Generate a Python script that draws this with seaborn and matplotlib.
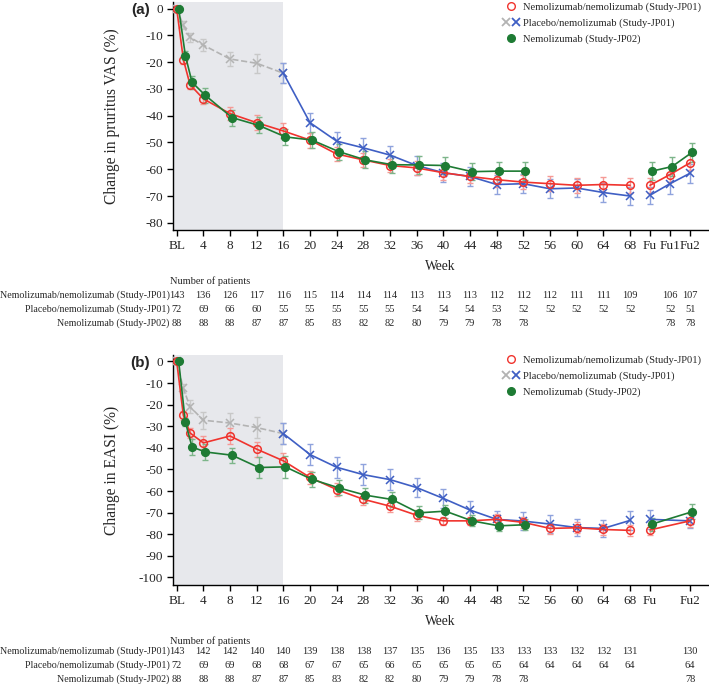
import numpy as np
import pandas as pd
import matplotlib
matplotlib.use("Agg")
import matplotlib.pyplot as plt
import matplotlib.transforms as mtransforms
from matplotlib.lines import Line2D
from matplotlib.legend_handler import HandlerTuple
import seaborn as sns

# Week positions (BL = 0, follow-up visits after week 68)
weeks_main = [0, 1, 2, 4, 8, 12, 16, 20, 24, 28, 32, 36, 40, 44, 48, 52, 56, 60, 64, 68]
weeks_jp02 = [0, 1, 2, 4, 8, 12, 16, 20, 24, 28, 32, 36, 40, 44, 48, 52]
weeks_pbo = [0, 1, 2, 4, 8, 12, 16]
weeks_blue = [16, 20, 24, 28, 32, 36, 40, 44, 48, 52, 56, 60, 64, 68]
weeks_fu_a = [71, 74, 77]
weeks_fu_b = [71, 77]

ticks_a = [0, 4, 8, 12, 16, 20, 24, 28, 32, 36, 40, 44, 48, 52, 56, 60, 64, 68, 71, 74, 77]
ticklabels_a = ["BL", "4", "8", "12", "16", "20", "24", "28", "32", "36", "40", "44",
                "48", "52", "56", "60", "64", "68", "Fu", "Fu1", "Fu2"]
ticks_b = [0, 4, 8, 12, 16, 20, 24, 28, 32, 36, 40, 44, 48, 52, 56, 60, 64, 68, 71, 77]
ticklabels_b = ["BL", "4", "8", "12", "16", "20", "24", "28", "32", "36", "40", "44",
                "48", "52", "56", "60", "64", "68", "Fu", "Fu2"]

# Panel (a): pruritus VAS
vas_nemo = [0, -19.0, -28.4, -33.7, -39.2, -42.6, -45.7, -49.1, -54.3, -56.5, -58.6, -59.5,
            -61.3, -62.7, -63.9, -64.8, -65.4, -66.0, -65.7, -66.0]
vas_nemo_err = [0, 1.5, 1.5, 1.8, 2.5, 2.8, 2.8, 2.8, 2.6, 2.6, 2.6, 2.6, 2.6, 2.6, 2.6, 2.7,
                2.8, 2.8, 2.8, 2.8]
vas_nemo_fu = [-66.0, -62.0, -57.6]
vas_nemo_fu_err = [2.8, 2.8, 2.8]
vas_jp02 = [0, -17.5, -27.5, -32.4, -40.7, -43.6, -47.9, -49.1, -53.4, -56.5, -58.3, -58.4,
            -58.6, -60.9, -60.7, -60.7]
vas_jp02_err = [0, 1.8, 2.5, 2.8, 3.0, 3.0, 3.0, 3.0, 3.0, 3.2, 3.2, 3.2, 3.2, 3.3, 3.5, 3.5]
vas_jp02_fu = [-60.7, -59.0, -53.7]
vas_jp02_fu_err = [3.3, 3.5, 3.5]
vas_pbo = [0, -6.2, -10.7, -13.6, -18.8, -20.4, -24.1]
vas_pbo_err = [0, 1.5, 1.8, 2.2, 2.5, 3.5, 3.8]
vas_blue = [-24.1, -42.6, -49.5, -52.0, -54.7, -58.6, -61.3, -62.7, -65.7, -65.4, -67.3,
            -67.0, -68.7, -70.0]
vas_blue_err = [3.8, 3.8, 3.5, 3.5, 3.5, 3.5, 3.5, 3.5, 3.5, 3.5, 3.5, 3.5, 3.5, 3.2]
vas_blue_fu = [-69.7, -65.4, -61.5]
vas_blue_fu_err = [3.2, 3.8, 3.5]

# Panel (b): EASI
easi_nemo = [0, -24.9, -33.1, -37.7, -34.5, -40.6, -46.0, -53.7, -59.3, -63.8, -67.0, -71.2,
             -73.8, -73.8, -73.1, -74.5, -77.3, -77.0, -77.8, -78.2]
easi_nemo_err = [0, 2.0, 2.5, 3.0, 3.8, 3.5, 3.5, 3.0, 3.0, 2.5, 2.5, 2.5, 2.0, 2.0, 2.5, 2.5,
                 2.5, 2.5, 2.5, 2.5]
easi_nemo_fu = [-78.0, -73.8]
easi_nemo_fu_err = [2.5, 3.0]
easi_jp02 = [0, -28.0, -39.6, -41.9, -43.4, -49.1, -48.8, -54.6, -58.5, -61.9, -63.9, -70.1,
             -69.3, -73.8, -76.1, -75.6]
easi_jp02_err = [0, 2.0, 3.5, 3.5, 3.5, 5.0, 5.0, 3.5, 3.5, 3.5, 3.5, 3.0, 3.0, 2.5, 2.5, 2.5]
easi_jp02_fu = [-75.3, -69.6]
easi_jp02_fu_err = [3.0, 3.5]
easi_pbo = [0, -12.5, -21.0, -27.2, -28.5, -30.6, -33.4]
easi_pbo_err = [0, 2.0, 3.0, 4.0, 4.5, 5.0, 5.0]
easi_blue = [-33.4, -43.1, -49.0, -52.4, -54.7, -58.4, -63.4, -68.8, -73.1, -73.9, -75.3,
             -76.9, -77.3, -73.6]
easi_blue_err = [5.0, 5.0, 5.0, 5.0, 5.0, 4.5, 4.5, 4.0, 4.0, 4.0, 4.0, 4.0, 4.0, 4.5]
easi_blue_fu = [-73.1, -73.8]
easi_blue_fu_err = [4.5, 3.5]

# Number of patients tables
row_labels = ["Nemolizumab/nemolizumab (Study-JP01)", "Placebo/nemolizumab (Study-JP01)",
              "Nemolizumab (Study-JP02)"]
n_weeks_main = [0, 4, 8, 12, 16, 20, 24, 28, 32, 36, 40, 44, 48, 52, 56, 60, 64, 68]
n_weeks_jp02 = [0, 4, 8, 12, 16, 20, 24, 28, 32, 36, 40, 44, 48, 52]
n_a_nemo = [143, 136, 126, 117, 116, 115, 114, 114, 114, 113, 113, 113, 112, 112, 112, 111, 111, 109]
n_a_pbo = [72, 69, 66, 60, 55, 55, 55, 55, 55, 54, 54, 54, 53, 52, 52, 52, 52, 52]
n_a_jp02 = [88, 88, 88, 87, 87, 85, 83, 82, 82, 80, 79, 79, 78, 78]
n_a_fu_weeks = [74, 77]
n_a_nemo_fu = [106, 107]
n_a_pbo_fu = [52, 51]
n_a_jp02_fu = [78, 78]
n_b_nemo = [143, 142, 142, 140, 140, 139, 138, 138, 137, 135, 136, 135, 133, 133, 133, 132, 132, 131]
n_b_pbo = [72, 69, 69, 68, 68, 67, 67, 65, 66, 65, 65, 65, 65, 64, 64, 64, 64, 64]
n_b_jp02 = [88, 88, 88, 87, 87, 85, 83, 82, 82, 80, 79, 79, 78, 78]
n_b_fu_weeks = [77]
n_b_nemo_fu = [130]
n_b_pbo_fu = [64]
n_b_jp02_fu = [78]

RED = "#F0342E"
RED_LIGHT = "#F59A96"
GREEN = "#1E7B34"
GREEN_LIGHT = "#7DB58A"
BLUE = "#3F5FC4"
BLUE_LIGHT = "#8FA3DD"
GRAY = "#B3B3B3"
GRAY_LIGHT = "#C8C8C8"
SHADE = "#E7E8EC"
DODGE = 0.3
FS = 7.5
FS_LABEL = 7.2

sns.set_theme(style="ticks")
plt.rcParams["font.family"] = ["Liberation Serif", "DejaVu Serif"]
plt.rcParams["font.size"] = FS

W, H = 709, 684
fig = plt.figure(figsize=(W / 100, H / 100), dpi=100)


def px_axes(left, top, right, bottom):
    return fig.add_axes([left / W, 1 - bottom / H, (right - left) / W, (bottom - top) / H])


def draw_series(ax, x, y, err, color, ecolor, marker, ls="-", hollow=False, shift=0.0):
    df = pd.DataFrame({"week": np.array(x, dtype=float) + shift, "value": y, "err": err})
    ax.errorbar(df["week"], df["value"], yerr=df["err"], fmt="none", ecolor=ecolor,
                elinewidth=1.0, capsize=2.2, capthick=1.0, zorder=2)
    kw = dict(color=color, linewidth=1.2, linestyle=ls, marker=marker, markersize=5.5,
              markeredgecolor=color, markeredgewidth=1.1, zorder=3)
    if hollow:
        kw["markerfacecolor"] = "none"
    sns.lineplot(data=df, x="week", y="value", ax=ax, errorbar=None, estimator=None,
                 sort=False, legend=False, **kw)


def setup_panel(ax, ylim, yticks, ticks, ticklabels, ylabel, tag):
    ax.axvspan(-0.6, 16, color=SHADE, zorder=0, lw=0)
    ax.set_xlim(-0.6, 79.7)
    ax.set_ylim(*ylim)
    ax.set_yticks(yticks)
    ax.set_yticklabels([str(v) for v in yticks])
    ax.set_xticks(ticks)
    ax.set_xticklabels(ticklabels)
    ax.set_xlabel("Week", labelpad=6, fontsize=9.8)
    ax.set_ylabel(ylabel, fontsize=11.2)
    ax.yaxis.set_label_coords(-0.098, 0.5)
    ax.tick_params(length=4, width=1, labelsize=9.5, pad=3, color="black")
    for s in ["top", "right"]:
        ax.spines[s].set_visible(False)
    for s in ["left", "bottom"]:
        ax.spines[s].set_color("black")
        ax.spines[s].set_linewidth(1.0)
    ax.text(-0.042, 0.995, tag, transform=ax.transAxes, fontsize=11, fontweight="bold",
            fontfamily=["Liberation Sans", "DejaVu Sans"], ha="right", va="top")
    handles = [
        Line2D([], [], color=RED, marker="o", markerfacecolor="none", ls="none", markersize=5.5),
        (Line2D([], [], color=GRAY, marker="x", ls="none", markersize=5.5, markeredgewidth=1.3),
         Line2D([], [], color=BLUE, marker="x", ls="none", markersize=5.5, markeredgewidth=1.3)),
        Line2D([], [], color=GREEN, marker="o", ls="none", markersize=5.5),
    ]
    ax.legend(handles, row_labels, loc="upper left", bbox_to_anchor=(0.617, 1.0),
              frameon=False, handler_map={tuple: HandlerTuple(ndivide=None, pad=0.3)},
              handlelength=1.5, handletextpad=0.35, labelspacing=0.62, fontsize=7.6,
              borderaxespad=0.0, borderpad=0.0)


def draw_table(ax, y_title, y_rows, rows):
    trans = mtransforms.blended_transform_factory(ax.transData, fig.transFigure)
    fig.text(170 / W, 1 - y_title / H, "Number of patients", ha="left", va="center", fontsize=FS)
    for (label, xs, ns), yr in zip(rows, y_rows):
        fig.text(169.5 / W, 1 - yr / H, label, ha="right", va="center", fontsize=FS_LABEL)
        for xv, n in zip(xs, ns):
            ax.text(xv, 1 - yr / H, str(n), transform=trans, ha="center", va="center",
                    fontsize=FS, clip_on=False)


# ---- Panel (a)
ax_a = px_axes(172.7, 2, 708, 230)
setup_panel(ax_a, (-82.7, 2.5), list(range(0, -81, -10)), ticks_a, ticklabels_a,
            "Change in pruritus VAS (%)", "(a)")
draw_series(ax_a, weeks_pbo, vas_pbo, vas_pbo_err, GRAY, GRAY_LIGHT, "x", ls="--")
draw_series(ax_a, weeks_blue, vas_blue, vas_blue_err, BLUE, BLUE_LIGHT, "x")
draw_series(ax_a, weeks_fu_a, vas_blue_fu, vas_blue_fu_err, BLUE, BLUE_LIGHT, "x")
draw_series(ax_a, weeks_main, vas_nemo, vas_nemo_err, RED, RED_LIGHT, "o", hollow=True)
draw_series(ax_a, weeks_fu_a, vas_nemo_fu, vas_nemo_fu_err, RED, RED_LIGHT, "o", hollow=True)
draw_series(ax_a, weeks_jp02, vas_jp02, vas_jp02_err, GREEN, GREEN_LIGHT, "o", shift=DODGE)
draw_series(ax_a, weeks_fu_a, vas_jp02_fu, vas_jp02_fu_err, GREEN, GREEN_LIGHT, "o", shift=DODGE)
draw_table(ax_a, 281, [295, 309.5, 323.5], [
    (row_labels[0], n_weeks_main + n_a_fu_weeks, n_a_nemo + n_a_nemo_fu),
    (row_labels[1], n_weeks_main + n_a_fu_weeks, n_a_pbo + n_a_pbo_fu),
    (row_labels[2], n_weeks_jp02 + n_a_fu_weeks, n_a_jp02 + n_a_jp02_fu),
])

# ---- Panel (b)
ax_b = px_axes(172.7, 355, 708, 585)
setup_panel(ax_b, (-103.5, 3.0), list(range(0, -101, -10)), ticks_b, ticklabels_b,
            "Change in EASI (%)", "(b)")
draw_series(ax_b, weeks_pbo, easi_pbo, easi_pbo_err, GRAY, GRAY_LIGHT, "x", ls="--")
draw_series(ax_b, weeks_blue, easi_blue, easi_blue_err, BLUE, BLUE_LIGHT, "x")
draw_series(ax_b, weeks_fu_b, easi_blue_fu, easi_blue_fu_err, BLUE, BLUE_LIGHT, "x")
draw_series(ax_b, weeks_main, easi_nemo, easi_nemo_err, RED, RED_LIGHT, "o", hollow=True)
draw_series(ax_b, weeks_fu_b, easi_nemo_fu, easi_nemo_fu_err, RED, RED_LIGHT, "o", hollow=True)
draw_series(ax_b, weeks_jp02, easi_jp02, easi_jp02_err, GREEN, GREEN_LIGHT, "o", shift=DODGE)
draw_series(ax_b, weeks_fu_b, easi_jp02_fu, easi_jp02_fu_err, GREEN, GREEN_LIGHT, "o", shift=DODGE)
draw_table(ax_b, 641, [651.5, 665.5, 679], [
    (row_labels[0], n_weeks_main + n_b_fu_weeks, n_b_nemo + n_b_nemo_fu),
    (row_labels[1], n_weeks_main + n_b_fu_weeks, n_b_pbo + n_b_pbo_fu),
    (row_labels[2], n_weeks_jp02 + n_b_fu_weeks, n_b_jp02 + n_b_jp02_fu),
])

fig.savefig("out.png", dpi=100)
